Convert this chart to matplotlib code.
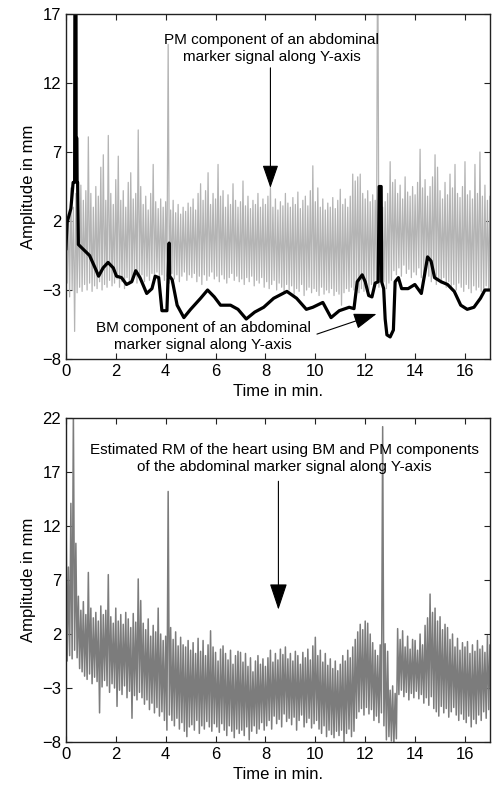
import numpy as np
import matplotlib
matplotlib.use("Agg")
import matplotlib.pyplot as plt

plt.rcParams['font.family'] = ['Liberation Sans', 'DejaVu Sans']
plt.rcParams['font.size'] = 11

# PM component (top, grey): peak / trough of each 0.1 min step, 0 .. 17 min
pm_upper = [3.5, 2.5, 4.4, 3.0, 4.0, 3.2, 4.6, 3.5, 4.2, 8.1,
            4.0, 3.0, 4.5, 3.8, 5.9, 6.8, 3.5, 8.2, 4.0, 3.2,
            5.0, 6.7, 3.5, 4.2, 3.0, 4.8, 5.5, 3.6, 4.0, 8.6,
            4.5, 3.2, 3.8, 2.8, 4.0, 6.1, 3.4, 2.9, 3.6, 3.0,
            3.4, 14.8, 2.8, 3.5, 2.6, 3.2, 2.5, 3.0, 2.7, 3.3,
            3.0, 3.6, 2.8, 4.0, 4.7, 3.5, 4.2, 5.5, 3.2, 4.0,
            3.6, 6.1, 3.8, 4.2, 3.0, 3.9, 3.2, 4.7, 3.5, 3.0,
            3.4, 4.9, 3.1, 3.8, 2.9, 3.5, 3.2, 4.0, 3.0, 3.6,
            3.2, 3.8, 4.5, 3.0, 3.6, 2.8, 3.4, 3.1, 4.0, 3.3,
            3.0, 3.7, 3.2, 4.1, 2.9, 3.5, 3.8, 3.1, 4.2, 6.0,
            3.4, 4.4, 3.0, 3.6, 2.8, 3.3, 3.0, 3.7, 2.9, 3.5,
            4.3, 3.2, 3.6, 3.0, 3.8, 5.4, 4.9, 5.2, 5.4, 4.0,
            3.6, 4.2, 3.4, 3.9, 3.5, 25.0, 3.8, 3.0, 3.4, 4.0,
            6.3, 4.8, 5.0, 4.0, 4.6, 3.6, 5.2, 4.1, 3.8, 4.5,
            3.9, 4.8, 7.2, 4.4, 5.0, 3.8, 4.5, 5.2, 6.8, 5.9,
            4.2, 3.6, 4.8, 3.9, 5.4, 4.4, 6.1, 4.0, 3.7, 4.5,
            6.3, 3.9, 4.2, 3.6, 6.1, 4.0, 7.0, 3.8, 4.6, 3.5,
            3.8]
pm_lower = [-2.5, -3.5, -3.0, -6.0, -3.2, -2.8, -3.1, -2.6, -3.0, -2.5,
            -3.1, -2.7, -2.9, -2.4, -3.0, -2.6, -2.8, -2.3, -2.7, -2.5,
            -2.2, -2.8, -2.4, -2.9, -2.1, -2.6, -2.3, -2.0, -2.5, -2.2,
            -1.9, -2.4, -2.0, -2.3, -1.8, -2.2, -1.7, -2.1, -1.9, -2.3,
            -2.0, -2.5, -1.8, -2.2, -1.9, -2.4, -2.0, -1.7, -2.3, -1.9,
            -2.1, -1.8, -2.4, -2.0, -2.6, -1.9, -2.3, -2.0, -1.7, -2.2,
            -2.0, -2.4, -1.9, -2.2, -2.5, -2.1, -1.8, -2.3, -2.0, -2.4,
            -2.2, -2.6, -2.1, -2.4, -2.0, -2.7, -2.3, -2.5, -2.1, -2.8,
            -2.4, -2.9, -2.6, -2.3, -3.0, -2.5, -2.8, -3.2, -2.6, -3.0,
            -2.7, -3.3, -2.9, -3.1, -2.6, -3.4, -3.0, -2.8, -3.2, -2.9,
            -3.1, -3.4, -2.8, -3.3, -3.0, -3.2, -2.9, -3.4, -3.1, -3.3,
            -4.1, -3.2, -2.9, -3.1, -2.8, -3.0, -2.7, -3.2, -2.9, -3.1,
            -2.7, -3.0, -2.6, -2.9, -2.5, -2.8, -2.6, -2.4, -2.9, -2.5,
            -2.3, -1.6, -1.9, -1.4, -2.0, -1.2, -1.8, -1.5, -2.1, -1.7,
            -1.9, -1.4, -2.1, -1.8, -1.5, -2.0, -2.4, -1.9, -2.6, -2.2,
            -2.5, -2.1, -2.8, -2.4, -2.9, -2.6, -3.0, -2.5, -2.8, -3.1,
            -2.6, -2.9, -3.2, -2.7, -3.0, -2.8, -3.1, -3.2, -2.7, -2.9,
            -2.5]

# BM component (top, black)
bm_t = [0.0, 0.05, 0.2, 0.29, 0.35, 0.37, 0.40, 0.41, 0.44, 0.45, 0.47, 0.5,
        0.95, 1.22, 1.31, 1.49, 1.69, 1.9, 2.03, 2.23, 2.43, 2.64, 2.8, 2.97,
        3.24, 3.45, 3.58, 3.72, 3.85, 4.05, 4.1, 4.14, 4.16, 4.26, 4.46, 4.73,
        5.0, 5.4, 5.68, 5.95, 6.2, 6.6, 6.9, 7.23, 7.57, 7.93, 8.33, 8.86,
        9.25, 9.64, 9.9, 10.3, 10.63, 10.96, 11.36, 11.55, 11.68, 11.88, 12.0,
        12.14, 12.27, 12.4, 12.52, 12.56, 12.64, 12.66, 12.74, 12.8, 12.87,
        13.0, 13.13, 13.2, 13.33, 13.46, 13.72, 13.99, 14.25, 14.38, 14.5,
        14.64, 14.78, 15.04, 15.3, 15.57, 15.83, 16.09, 16.36, 16.62, 16.8, 17.0]
bm_v = [0.0, 1.9, 2.9, 4.8, 4.8, 30.0, 30.0, 8.0, 8.0, 4.8, 4.8, 0.3,
        -0.5, -1.6, -2.0, -1.4, -1.0, -1.4, -2.0, -2.1, -2.6, -2.4, -1.6, -2.1,
        -3.25, -2.9, -2.0, -2.1, -4.5, -4.5, -1.9, 0.4, -2.0, -2.25, -4.1, -5.0,
        -4.4, -3.6, -3.0, -3.5, -4.1, -4.1, -4.4, -5.1, -4.6, -4.25, -3.6, -3.1,
        -3.6, -4.4, -4.25, -3.9, -5.0, -4.5, -4.25, -4.35, -2.4, -1.9, -2.4,
        -3.4, -3.5, -2.5, -2.4, 4.5, 4.5, -2.4, -2.9, -5.1, -6.25,
        -6.4, -5.9, -2.4, -2.1, -2.9, -2.9, -2.6, -3.25, -1.9, -0.6,
        -0.9, -2.1, -2.4, -2.6, -3.1, -4.1, -4.4, -4.25, -3.6, -3.0, -3.0]

# Estimated RM of the heart (bottom): peak / trough per 0.1 min step
rm_upper = [15.2, 8.2, 14.1, 22.5, 10.4, 5.5, 4.2, 5.0, 3.8, 7.7,
            4.4, 3.5, 4.0, 3.2, 4.6, 3.8, 4.2, 7.5, 3.6, 3.0,
            4.4, 3.2, 3.8, 2.9, 4.0, 3.4, 2.6, 3.9, 3.1, 7.1,
            5.1, 3.0, 2.4, 3.4, 1.8, 2.8, 2.2, 4.4, 2.0, 1.4,
            1.8, 15.2, 2.6, 1.5, 2.2, 0.9, 1.7, 1.0, 0.8, 1.4,
            0.5, 1.2, 0.2, 1.6, 0.4, 1.4, 0.0, 1.0, 2.3, 0.8,
            0.3, -0.5, 0.6, 0.9, 0.2, -0.4, 0.5, -0.8, 0.0, 0.4,
            0.3, -0.6, 0.2, -1.0, -0.2, -1.5, -0.5, 0.0, -0.8, -0.3,
            -1.0, -0.2, 0.5, -0.6, 0.2, -0.4, 0.6, 0.1, 0.8, -0.3,
            0.2, -0.5, 0.4, 0.0, -0.8, 0.3, -0.2, 0.6, -0.4, 0.9,
            1.7, 0.0, 0.5, -0.6, 0.2, -0.9, -0.3, -1.2, -0.5, -1.4,
            -0.8, 0.0, -0.5, 0.5, -0.2, 0.8, 1.5, 2.2, 2.9, 2.4,
            3.2, 3.0, 2.0, 1.2, 0.5, 0.0, 1.0, 21.2, 1.1, 0.4,
            -3.2, -2.8, -3.5, 2.5, 1.5, 2.3, 0.8, 1.8, 0.6, 1.5,
            1.4, 0.5, 2.0, 1.0, 2.8, 3.5, 5.7, 4.0, 4.4, 3.2,
            3.6, 2.4, 2.9, 2.6, 1.5, 2.0, 0.8, 1.6, 0.5, 1.2,
            0.8, 1.3, 0.2, 1.0, 0.4, 1.4, 0.6, 0.9, 0.3, 1.85,
            1.0]
rm_lower = [-0.5, 0.0, -0.3, 0.5, -0.2, -1.2, -1.5, -1.9, -2.2, -1.7,
            -2.6, -2.0, -2.4, -5.3, -2.9, -2.3, -2.8, -3.4, -2.6, -3.0,
            -4.7, -3.2, -3.6, -2.8, -3.9, -3.3, -5.8, -3.7, -4.1, -3.4,
            -3.9, -4.5, -4.1, -5.0, -4.4, -5.3, -4.8, -5.6, -5.2, -6.0,
            -6.9, -5.5, -6.0, -6.5, -5.8, -6.8, -6.2, -7.0, -7.5, -6.6,
            -6.4, -6.9, -6.0, -7.2, -6.5, -6.8, -6.1, -6.6, -7.0, -6.3,
            -6.6, -7.1, -6.3, -6.9, -7.4, -6.5, -7.0, -7.6, -6.8, -7.2,
            -6.9, -7.4, -6.6, -7.8, -7.0, -6.5, -7.2, -6.8, -6.2, -6.9,
            -6.5, -6.0, -6.8, -5.6, -6.3, -5.9, -6.6, -5.4, -6.1, -5.8,
            -6.4, -5.7, -6.9, -6.0, -5.5, -6.6, -6.2, -5.8, -6.7, -6.3,
            -6.0, -6.8, -7.2, -6.5, -7.5, -6.9, -7.3, -7.6, -7.0, -7.4,
            -6.9, -8.1, -7.2, -6.8, -7.5, -7.0, -5.8, -5.2, -4.9, -5.5,
            -4.8, -5.4, -5.0, -6.0, -5.6, -6.2, -5.3, -6.5, -7.8, -7.5,
            -7.9, -8.2, -7.7, -3.6, -3.2, -3.8, -3.4, -4.1, -3.5, -3.9,
            -3.3, -4.0, -3.6, -4.4, -3.9, -4.6, -3.8, -4.9, -5.2, -5.6,
            -4.7, -5.3, -4.9, -5.7, -5.2, -4.8, -5.5, -6.0, -5.4, -5.9,
            -6.2, -5.6, -6.6, -5.9, -6.3, -5.5, -6.0, -5.2, -5.8, -5.0,
            -5.4]

xticks = [0, 2, 4, 6, 8, 10, 12, 14, 16]
top_yticks = [-8, -3, 2, 7, 12, 17]
bot_yticks = [-8, -3, 2, 7, 12, 17, 22]


def zigzag(upper, lower, step=0.1):
    # peak at t, trough half a step later
    t = np.arange(len(upper)) * step
    x = np.column_stack([t, t + step / 2]).ravel()
    y = np.column_stack([upper, lower]).ravel()
    return x, y


def style_axes(ax, yticks):
    ax.set_xlim(0, 17)
    ax.set_ylim(yticks[0], yticks[-1])
    ax.set_xticks(xticks)
    ax.set_yticks(yticks)
    ax.tick_params(direction='in', top=True, right=True, length=4,
                   width=0.8, labelsize=12, color='#222222')
    for s in ax.spines.values():
        s.set_linewidth(1.0)
        s.set_color('#222222')
    ax.set_xlabel('Time in min.', fontsize=12)
    ax.set_ylabel('Amplitude in mm', fontsize=12)


fig = plt.figure(figsize=(5.03, 7.92), dpi=100)
ax1 = fig.add_axes([0.131, 0.5467, 0.843, 0.4356])
ax2 = fig.add_axes([0.131, 0.0631, 0.843, 0.4091])

x, y = zigzag(pm_upper, pm_lower)
ax1.plot(x, y, color='#b4b4b4', lw=0.9)
ax1.plot(bm_t, bm_v, color='black', lw=2.3)
style_axes(ax1, top_yticks)

ax1.annotate('', xy=(8.2, 4.2), xytext=(8.2, 13.3),
             arrowprops=dict(arrowstyle='-|>,head_length=1.3,head_width=0.45',
                             color='black', lw=0.8))
ax1.text(8.25, 14.5, 'PM component of an abdominal\nmarker signal along Y-axis',
         ha='center', va='center', fontsize=11, linespacing=1.25)
ax1.annotate('', xy=(12.56, -4.67), xytext=(9.96, -6.26),
             arrowprops=dict(arrowstyle='-|>,head_length=1.3,head_width=0.45',
                             color='black', lw=0.8))
ax1.text(5.5, -6.35, 'BM component of an abdominal\nmarker signal along Y-axis',
         ha='center', va='center', fontsize=11, linespacing=1.25)

x, y = zigzag(rm_upper, rm_lower)
ax2.plot(x, y, color='#7c7c7c', lw=1.1)
style_axes(ax2, bot_yticks)

ax2.annotate('', xy=(8.52, 4.0), xytext=(8.52, 16.4),
             arrowprops=dict(arrowstyle='-|>,head_length=1.5,head_width=0.5',
                             color='black', lw=0.8))
ax2.text(8.76, 18.25, 'Estimated RM of the heart using BM and PM components\n'
         'of the abdominal marker signal along Y-axis',
         ha='center', va='center', fontsize=11, linespacing=1.25)

fig.savefig('out.png', dpi=100)
